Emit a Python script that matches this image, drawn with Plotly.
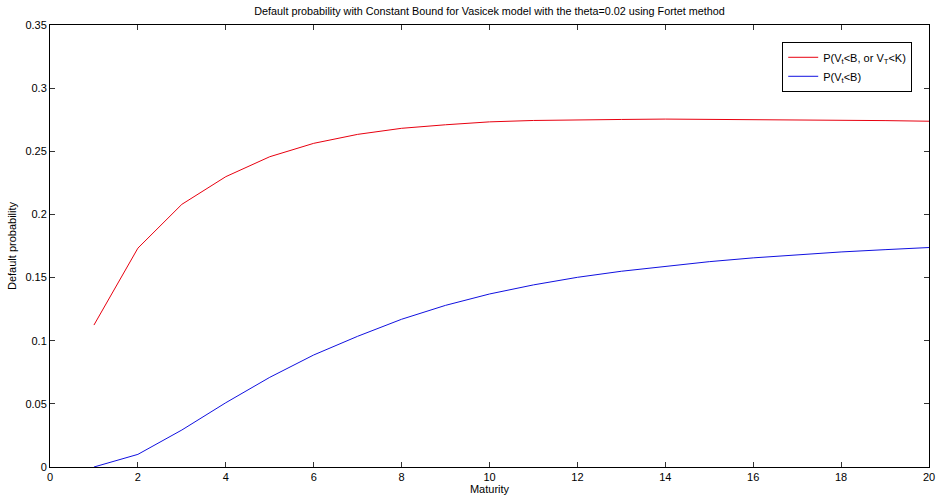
import plotly.graph_objects as go

# Maturities (years) and default probabilities from the Fortet method
maturity = list(range(1, 21))
p_first_passage_or_terminal = [
    0.1124, 0.1733, 0.2080, 0.2299, 0.2457, 0.2563, 0.2634, 0.2682, 0.2710, 0.2733,
    0.2744, 0.2750, 0.2752, 0.2755, 0.2753, 0.2752, 0.2751, 0.2748, 0.2743, 0.2738,
]
p_first_passage = [
    0.0000, 0.0100, 0.0293, 0.0509, 0.0710, 0.0887, 0.1035, 0.1170, 0.1280, 0.1370,
    0.1442, 0.1502, 0.1550, 0.1590, 0.1626, 0.1656, 0.1680, 0.1703, 0.1721, 0.1738,
]

title_text = "Default probability with Constant Bound for Vasicek model with the theta=0.02 using Fortet method"
x_ticks = list(range(0, 21, 2))
y_ticks = [0, 0.05, 0.1, 0.15, 0.2, 0.25, 0.3, 0.35]
y_tick_text = ["0", "0.05", "0.1", "0.15", "0.2", "0.25", "0.3", "0.35"]

font_family = "Liberation Sans, Arial, sans-serif"

fig = go.Figure()
fig.add_trace(go.Scatter(
    x=maturity, y=p_first_passage_or_terminal, mode="lines",
    name="P(V<sub>t</sub><B, or V<sub>T</sub><K)",
    line=dict(color="#e8000f", width=1),
))
fig.add_trace(go.Scatter(
    x=maturity, y=p_first_passage, mode="lines",
    name="P(V<sub>t</sub><B)",
    line=dict(color="#1010e0", width=1),
))

axis_common = dict(
    showgrid=False, zeroline=False, showline=True, linecolor="black", linewidth=1,
    mirror="ticks", ticks="inside", ticklen=5, tickcolor="#333333",
    tickfont=dict(size=11, color="black", family=font_family),
    automargin=False,
)

fig.update_layout(
    width=939, height=502,
    margin=dict(l=50, r=10, t=25, b=35, autoexpand=False),
    paper_bgcolor="white", plot_bgcolor="white",
    font=dict(family=font_family, size=11, color="black"),
    title=dict(text=title_text, xref="paper", x=0.5, xanchor="center", y=0.985, yanchor="top",
               font=dict(size=10.8, color="black")),
    xaxis=dict(range=[0, 20], tickvals=x_ticks, title=dict(text="Maturity", standoff=2,
               font=dict(size=11)), **axis_common),
    yaxis=dict(range=[0, 0.35], tickvals=y_ticks, ticktext=y_tick_text,
               title=dict(text="Default probability", standoff=6, font=dict(size=11)),
               **axis_common),
    legend=dict(x=0.833, y=0.962, xanchor="left", yanchor="top",
                bgcolor="white", bordercolor="black", borderwidth=1,
                font=dict(size=11, color="black"), tracegroupgap=0, itemwidth=30),
    showlegend=True,
)

fig.write_html("out.html")
